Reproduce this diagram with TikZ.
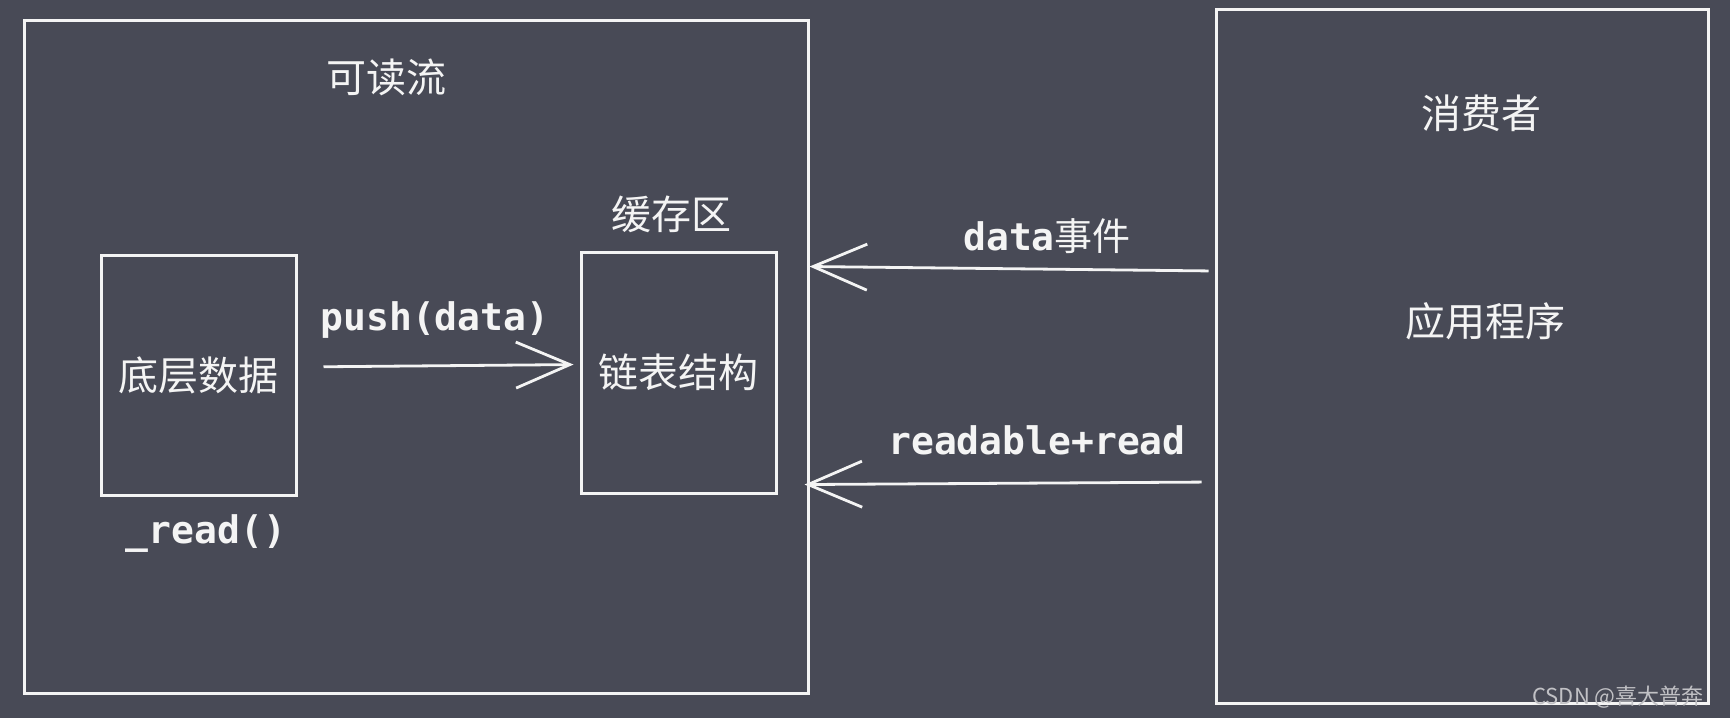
\documentclass[tikz,border=0pt]{standalone}
\usepackage{fontspec}
\setmainfont{Noto Sans CJK SC}
\setmonofont{DejaVu Sans Mono}
\usepackage{tikz}
\usetikzlibrary{arrows.meta,positioning}
\definecolor{board}{HTML}{484A56}
\definecolor{chalk}{HTML}{F4F4F4}
\tikzset{
  box/.style={draw=chalk, line width=1.5pt, rectangle},
  zh/.style={text=chalk, font=\fontsize{20}{24}\selectfont},
  code/.style={text=chalk, font=\fontsize{19}{23}\selectfont\ttfamily\bfseries},
  arr/.style={draw=chalk, line width=1.4pt, -{Straight Barb[length=27pt,width=23pt,line width=1.4pt]}}
}

\begin{document}
\begin{tikzpicture}[x=0.5pt,y=-0.5pt]
  \fill[board] (0,0) rectangle (1730,718);
  \useasboundingbox (0,0) rectangle (1730,718);

  % boxes
  \node[box, minimum width=392pt, minimum height=336.5pt] (stream) at (416,356.5) {};
  \node[box, minimum width=246pt, minimum height=347pt] (consumer) at (1462,356) {};
  \node[box, zh, minimum width=97.5pt, minimum height=120pt] (source) at (198.5,375) {底层数据};
  \node[box, zh, minimum width=97.5pt, minimum height=120.5pt] (buffer) at (678.5,372.5) {链表结构};

  % titles
  \node[zh] (streamtitle) at (386,77) {可读流};
  \node[zh] (buftitle) at (671,214) {缓存区};
  \node[zh] (constitle) at (1481,113) {消费者};
  \node[zh] (app) at (1485,321) {应用程序};

  % code labels
  \node[code] (readfn) at (206,534) {\_read()};
  \node[code] (pushlbl) at (435,320) {push(data)};
  \node[code] (datalbl) at (1047,236) {data\textmd{\rmfamily 事件}};
  \node[code] (readablelbl) at (1037,440) {readable+read};

  % arrows
  \draw[arr, shorten <=13pt, shorten >=3pt] ([yshift=4pt]source.east) -- ([yshift=4pt]buffer.west);
  \draw[arr, shorten <=3pt] ([yshift=42.5pt]consumer.west) -- ([yshift=45pt]stream.east);
  \draw[arr, shorten <=6.5pt, shorten >=-2.5pt] ([yshift=-63pt]consumer.west) -- ([yshift=-64pt]stream.east);

  % watermark
  \node[text=chalk!70!board, font=\fontsize{11}{13}\selectfont] (mark) at (1618,697) {CSDN @喜大普奔};
\end{tikzpicture}
\end{document}
